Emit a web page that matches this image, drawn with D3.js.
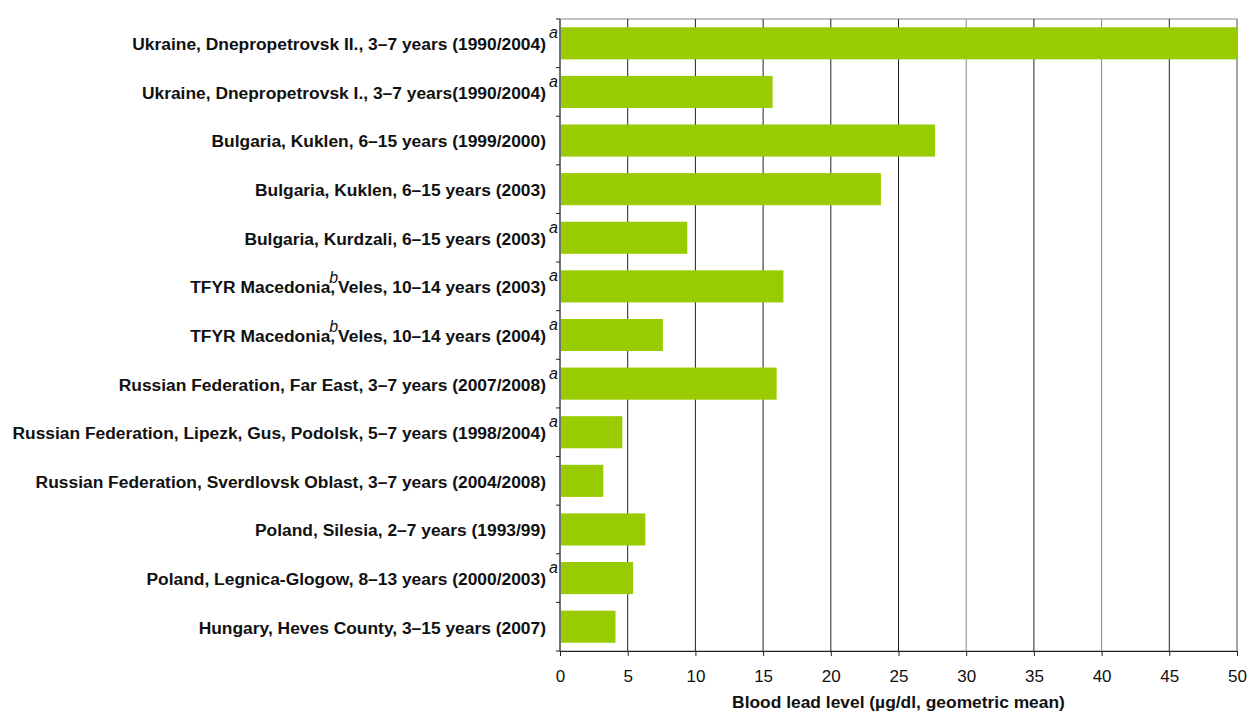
<!DOCTYPE html>
<html>
<head>
<meta charset="utf-8">
<script src="https://cdn.jsdelivr.net/npm/d3@7"></script>
<style>
  body { margin: 0; background: #fff; }
  svg { display: block; font-family: "Liberation Sans", Arial, sans-serif; }
  .cat-label { font-size: 17.4px; font-weight: bold; fill: #111; }
  .note { font-size: 16px; font-style: italic; font-weight: normal; fill: #111; }
  .x-axis text { font-size: 17px; fill: #111; }
  .axis-title { font-size: 17.4px; font-weight: bold; fill: #111; }
</style>
</head>
<body>
<svg id="chart" width="1249" height="713"></svg>
<script>
// labels, "^b" marks the inline superscript b
const categories = [
  "Ukraine, Dnepropetrovsk II., 3–7 years (1990/2004)",
  "Ukraine, Dnepropetrovsk I., 3–7 years(1990/2004)",
  "Bulgaria, Kuklen, 6–15 years (1999/2000)",
  "Bulgaria, Kuklen, 6–15 years (2003)",
  "Bulgaria, Kurdzali, 6–15 years (2003)",
  "TFYR Macedonia,^b Veles, 10–14 years (2003)",
  "TFYR Macedonia,^b Veles, 10–14 years (2004)",
  "Russian Federation, Far East, 3–7 years (2007/2008)",
  "Russian Federation, Lipezk, Gus, Podolsk, 5–7 years (1998/2004)",
  "Russian Federation, Sverdlovsk Oblast, 3–7 years (2004/2008)",
  "Poland, Silesia, 2–7 years (1993/99)",
  "Poland, Legnica-Glogow, 8–13 years (2000/2003)",
  "Hungary, Heves County, 3–15 years (2007)"
];
const values = [50, 15.7, 27.7, 23.7, 9.4, 16.5, 7.6, 16.0, 4.6, 3.2, 6.3, 5.4, 4.1];
const notes = ["a", "a", "", "", "a", "a", "a", "a", "a", "", "", "a", ""];
const xTicks = [0, 5, 10, 15, 20, 25, 30, 35, 40, 45, 50];
const xTitle = "Blood lead level (µg/dl, geometric mean)";

const margin = { top: 19, right: 12, bottom: 62, left: 560 };
const width = 1249 - margin.left - margin.right;
const height = 713 - margin.top - margin.bottom;

const svg = d3.select("#chart");
const g = svg.append("g").attr("transform", `translate(${margin.left},${margin.top})`);

const x = d3.scaleLinear().domain([0, 50]).range([0, width]);
const y = d3.scaleBand().domain(categories).range([0, height]).paddingInner(0.34).paddingOuter(0.17);

// plot frame + gridlines
g.append("rect")
  .attr("width", width).attr("height", height)
  .attr("fill", "none").attr("stroke", "#888").attr("stroke-width", 1);

g.selectAll(".grid")
  .data(xTicks.slice(1))
  .join("line")
  .attr("class", "grid")
  .attr("x1", d => x(d)).attr("x2", d => x(d))
  .attr("y1", 0).attr("y2", height)
  .attr("stroke", d => d % 10 === 0 && d >= 30 ? "#888" : "#222")
  .attr("stroke-width", 1);

// bars
g.selectAll(".bar")
  .data(values)
  .join("rect")
  .attr("class", "bar")
  .attr("x", x(0) + 1)
  .attr("y", (d, i) => y(categories[i]))
  .attr("width", d => x(d) - x(0) - 1)
  .attr("height", y.bandwidth())
  .attr("fill", "#99cc00");

// x axis
const xAxis = g.append("g")
  .attr("class", "x-axis")
  .attr("transform", `translate(0,${height})`)
  .call(d3.axisBottom(x).tickValues(xTicks).tickSize(5).tickPadding(14));
xAxis.select(".domain").attr("stroke", "#222");
xAxis.selectAll(".tick line").attr("stroke", "#222");

// y axis line with ticks at band edges
g.append("line")
  .attr("x1", 0).attr("x2", 0).attr("y1", 0).attr("y2", height)
  .attr("stroke", "#222");
const edges = categories.map(c => y(c) + y.bandwidth() / 2 - y.step() / 2).concat([height]);
g.selectAll(".ytick")
  .data(edges)
  .join("line")
  .attr("x1", -4).attr("x2", 0)
  .attr("y1", d => d).attr("y2", d => d)
  .attr("stroke", "#222");

// category labels
const labels = g.selectAll(".cat-label")
  .data(categories)
  .join("text")
  .attr("class", "cat-label")
  .attr("x", -14)
  .attr("y", d => y(d) + y.bandwidth() / 2)
  .attr("dy", "0.4em")
  .attr("text-anchor", "end");

labels.each(function (d) {
  const t = d3.select(this);
  const parts = d.split("^b");
  t.append("tspan").text(parts[0]);
  if (parts.length > 1) {
    t.append("tspan").attr("class", "note").attr("dx", -6).attr("dy", -10).text("b");
    t.append("tspan").attr("dx", 0).attr("dy", 10).text(parts[1].trim());
  }
});

// superscript notes after labels
g.selectAll(".note-a")
  .data(notes)
  .join("text")
  .attr("class", "note")
  .attr("x", -11)
  .attr("y", (d, i) => y(categories[i]) + y.bandwidth() / 2 - 5)
  .text(d => d);

// axis title
g.append("text")
  .attr("class", "axis-title")
  .attr("x", width / 2)
  .attr("y", height + 57)
  .attr("text-anchor", "middle")
  .text(xTitle);
</script>
</body>
</html>
